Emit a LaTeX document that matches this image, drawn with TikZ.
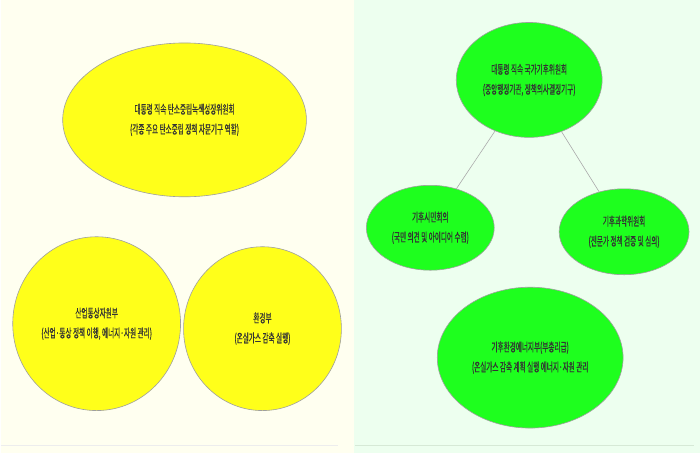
\documentclass[tikz,border=0pt]{standalone}
\usepackage{fontspec}
\newfontfamily\kr[FakeStretch=0.55,FakeBold=0.6]{Noto Sans CJK KR}
\usetikzlibrary{shapes.geometric}
\definecolor{paneyellow}{HTML}{FFFFF0}
\definecolor{panegreen}{HTML}{EDFFEF}
\definecolor{blobyellow}{HTML}{FFFF1A}
\definecolor{blobgreen}{HTML}{1EFF1E}

\begin{document}
\begin{tikzpicture}[x=1pt,y=-1pt]
    \tikzstyle{every node}=[font={\kr\fontsize{12}{20}\selectfont}, text=black!80, align=center]
    \tikzstyle{body}=[ellipse, draw=gray!75, line width=0.6pt, inner sep=0pt]
    \tikzstyle{yellowbody}=[body, fill=blobyellow]
    \tikzstyle{greenbody}=[body, fill=blobgreen]
    \tikzstyle{link}=[draw=gray!65, line width=0.6pt]
    % two panels
    \fill[paneyellow] (0,0) rectangle (354,453);
    \fill[panegreen] (354,0) rectangle (700,453);
    \draw[black!7, line width=1.5pt] (0,446) -- (338,446);
    \draw[green!30!gray!25, line width=1.5pt] (355,446) -- (694,446);
    % left panel
    \node[yellowbody, minimum width=244pt, minimum height=154pt] (carbon) at (184,120)
        {대통령 직속 탄소중립녹색성장위원회\\(각종 주요 탄소중립 정책 자문기구 역할)};
    \node[yellowbody, minimum width=168pt, minimum height=174pt] (industry) at (96,324)
        {산업통상자원부\\(산업·통상 정책 이행, 에너지·자원 관리)};
    \node[yellowbody, minimum width=158pt, minimum height=164pt] (environment) at (262,329)
        {환경부\\(온실가스 감축 실행)};
    % right panel
    \node[greenbody, minimum width=146pt, minimum height=115pt] (climate) at (529,80)
        {대통령 직속 국가기후위원회\\(중앙행정기관, 정책의사결정기구)};
    \node[greenbody, minimum width=128pt, minimum height=85pt] (citizen) at (430,228)
        {기후시민회의\\(국민 의견 및 아이디어 수렴)};
    \node[greenbody, minimum width=130pt, minimum height=86pt] (science) at (624,232)
        {기후과학위원회\\(전문가 정책 검증 및 심의)};
    \node[greenbody, minimum width=186pt, minimum height=141pt] (ministry) at (530,358)
        {기후환경에너지부(부총리급)\\(온실가스 감축 계획 실행 에너지·자원 관리};
    \draw[link] (climate) -- (citizen);
    \draw[link] (climate) -- (science);
\end{tikzpicture}
\end{document}
